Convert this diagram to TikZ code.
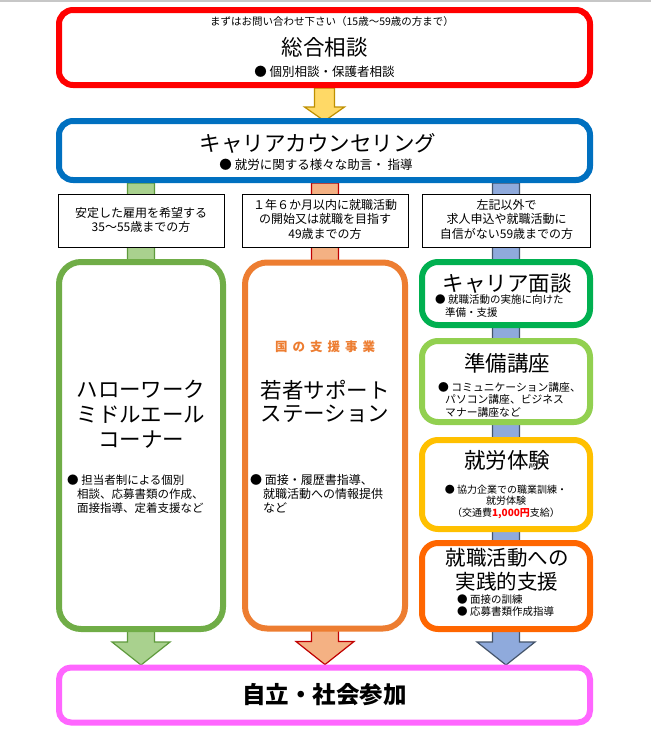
\documentclass[tikz,border=0pt]{standalone}
\usepackage{fontspec}
\setmainfont{Noto Sans CJK JP}
\usetikzlibrary{calc}
\pgfdeclarelayer{back}
\pgfdeclarelayer{bg}
\pgfsetlayers{back,bg,main}
\definecolor{cred}{HTML}{FF0000}
\definecolor{cblue}{HTML}{0070C0}
\definecolor{cgreen}{HTML}{70AD47}
\definecolor{corange}{HTML}{ED7D31}
\definecolor{cdgreen}{HTML}{00B050}
\definecolor{clgreen}{HTML}{92D050}
\definecolor{cyellow}{HTML}{FFC000}
\definecolor{corangeb}{HTML}{FF6600}
\definecolor{cpink}{HTML}{FF66FF}
\definecolor{agfill}{HTML}{A9D18E}
\definecolor{agdraw}{HTML}{5E9A3C}
\definecolor{aofill}{HTML}{F4B183}
\definecolor{aodraw}{HTML}{C00000}
\definecolor{abfill}{HTML}{8FAADC}
\definecolor{abdraw}{HTML}{44546A}
\definecolor{ayfill}{HTML}{FFD966}
\definecolor{aydraw}{HTML}{BF9000}
\newcommand\blockdown[6]{\draw[#1] let \p1=(#2), \p2=(#3) in
 (\x2-#4pt,\y1) -- (\x2-#4pt,\y2+#6pt) -- (\x2-#5pt,\y2+#6pt) -- (\x2,\y2)
 -- (\x2+#5pt,\y2+#6pt) -- (\x2+#4pt,\y2+#6pt) -- (\x2+#4pt,\y1) -- cycle;}
\newcommand\fsz[2]{\fontsize{#1pt}{#2pt}\selectfont}
\tikzset{
 bx/.style={draw=#1, line width=6pt, fill=white, inner sep=0pt},
 condbox/.style={draw=black, line width=0.9pt, fill=white, inner sep=0pt, minimum height=53pt},
 txt/.style={inner sep=0pt, align=center},
 ltxt/.style={inner sep=0pt, align=left, anchor=west},
 gar/.style={fill=agfill, draw=agdraw, line width=1.2pt, line join=miter},
 oar/.style={fill=aofill, draw=aodraw, line width=1.2pt, line join=miter},
 bar/.style={fill=abfill, draw=abdraw, line width=1.2pt, line join=miter},
 yar/.style={fill=ayfill, draw=aydraw, line width=1.2pt, line join=miter},
}
\begin{document}
\begin{tikzpicture}[x=1pt,y=-1pt]
\useasboundingbox (0,0) rectangle (651,740);
\begin{pgfonlayer}{back}
\fill[white] (0,0) rectangle (651,740);
\draw[line width=1.5pt, black!22] (0,0.75) -- (651,0.75);
\end{pgfonlayer}
% boxes
\node[bx=cred, rounded corners=14pt, minimum width=531pt, minimum height=75pt] (sogo) at (324.5,47.5) {};
\node[bx=cblue, rounded corners=14pt, minimum width=531pt, minimum height=59pt] (career) at (324.5,150.5) {};
\node[condbox, minimum width=166pt] (condL) at (141,220.5) {};
\node[condbox, minimum width=166pt] (condM) at (325,220.5) {};
\node[condbox, minimum width=168pt] (condR) at (506.5,220.5) {};
\node[bx=cgreen, rounded corners=22pt, minimum width=164pt, minimum height=367pt] (hw) at (141,445.5) {};
\node[bx=corange, rounded corners=22pt, minimum width=160pt, minimum height=366pt] (ys) at (325,445.5) {};
\node[bx=cdgreen, rounded corners=16pt, minimum width=168pt, minimum height=63pt] (mendan) at (506,293.5) {};
\node[bx=clgreen, rounded corners=16pt, minimum width=168pt, minimum height=81pt] (prep) at (506,381.5) {};
\node[bx=cyellow, rounded corners=16pt, minimum width=168pt, minimum height=89pt] (work) at (506,484.5) {};
\node[bx=corangeb, rounded corners=16pt, minimum width=168pt, minimum height=86pt] (job) at (506,586) {};
\node[bx=cpink, rounded corners=12pt, minimum width=531pt, minimum height=55pt] (goal) at (324.5,695) {};
% arrow tips
\coordinate (ytip) at ($(sogo.south)+(0,33)$);
\coordinate (gtip) at ($(hw.south)+(0,33)$);
\coordinate (otip) at ($(ys.south)+(0,33)$);
\coordinate (btip) at ($(job.south)+(0,33)$);
\begin{pgfonlayer}{bg}
\blockdown{yar}{sogo.south}{ytip}{10}{20}{14}
\blockdown{gar}{hw.north |- career.south}{gtip}{13.5}{29}{23}
\blockdown{oar}{ys.north |- career.south}{otip}{13.5}{29}{23}
\blockdown{bar}{job.north |- career.south}{btip}{13.5}{29}{23}
\end{pgfonlayer}
% texts: top
\node[txt, font=\fsz{10.5}{12}] (t1) at (332,22) {まずはお問い合わせ下さい（15歳～59歳の方まで）};
\node[txt, font=\fsz{21.5}{25}] (t2) at (324.5,47) {総合相談};
\node[txt, font=\fsz{12.5}{15}] (t3) at (324.5,72) {● 個別相談・保護者相談};
\node[txt, font=\fsz{21.5}{25}] (t4) at (318,143) {キャリアカウンセリング};
\node[txt, font=\fsz{12.5}{15}] (t5) at (316,165) {● 就労に関する様々な助言・ 指導};
% conditions
\node[txt, font=\fsz{12}{14.5}] (c1) at (141,220) {安定した雇用を希望する\\35～55歳までの方};
\node[txt, font=\fsz{12}{14.5}] (c2) at (325,219) {１年６か月以内に就職活動\\の開始又は就職を目指す\\49歳までの方};
\node[txt, font=\fsz{12}{14.5}] (c3) at (506.5,219) {左記以外で\\求人申込や就職活動に\\自信がない59歳までの方};
% hello work
\node[txt, font=\fsz{21.5}{25}] (h1) at (141,414) {ハローワーク\\ミドルエール\\コーナー};
\node[ltxt, font=\fsz{11.5}{14}] (h2) at (67,494) {● 担当者制による個別\\\hspace*{10pt}相談、応募書類の作成、\\\hspace*{10pt}面接指導、定着支援など};
% youth support
\node[txt, font=\fsz{12.5}{15}\bfseries, text=corange] (y0) at (325,347) {国\hspace{5pt}の\hspace{5pt}支\hspace{5pt}援\hspace{5pt}事\hspace{5pt}業};
\node[txt, font=\fsz{21.5}{23}] (y1) at (325,401.5) {若者サポート\\ステーション};
\node[ltxt, font=\fsz{12}{14}] (y2) at (250,494) {● 面接・履歴書指導、\\\hspace*{13pt}就職活動への情報提供\\\hspace*{13pt}など};
% right column
\node[txt, font=\fsz{21.5}{25}] (r1) at (507,283) {キャリア面談};
\node[ltxt, font=\fsz{10.5}{13}] (r2) at (435,306.5) {● 就職活動の実施に向けた\\\hspace*{10pt}準備・支援};
\node[txt, font=\fsz{21.5}{25}] (r3) at (507,363) {準備講座};
\node[ltxt, font=\fsz{10.8}{12.5}] (r4) at (438,399.5) {● コミュニケーション講座、\\\hspace*{7pt}パソコン講座、ビジネス\\\hspace*{7pt}マナー講座など};
\node[txt, font=\fsz{21.5}{25}] (r5) at (507,460) {就労体験};
\node[txt, font=\fsz{10}{11.5}] (r6) at (506,501.5) {● 協力企業での職業訓練・\\就労体験\\（交通費{\color{cred}\bfseries 1,000円}支給）};
\node[txt, font=\fsz{20.5}{24}] (r7) at (507,570) {就職活動への\\実践的支援};
\node[ltxt, font=\fsz{10.5}{12}] (r8) at (457,606) {● 面接の訓練\\● 応募書類作成指導};
% goal
\node[txt, font=\fsz{23.5}{28}\bfseries] (g1) at (324.5,694.5) {自立・社会参加};
\end{tikzpicture}
\end{document}
